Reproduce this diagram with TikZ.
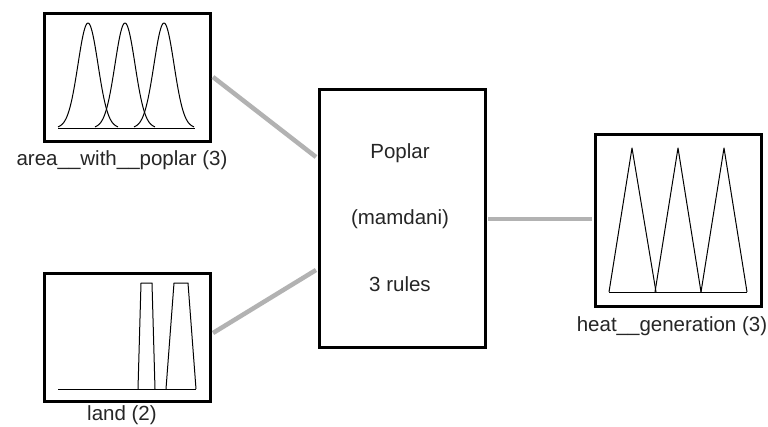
\documentclass[tikz,border=0pt]{standalone}
\usepackage{fontspec}
\setmainfont{Liberation Sans}
\begin{document}
\begin{tikzpicture}[x=1pt,y=-1pt,
  fisbox/.style={draw=black, line width=3pt, fill=white, inner sep=0pt},
  conn/.style={draw=linkgray, line width=4.5pt},
  mf/.style={draw=black, line width=1pt, line join=round},
  lbl/.style={font=\fontsize{20.5}{22}\selectfont, inner sep=0pt, text=black!85}]
\definecolor{linkgray}{RGB}{178,178,178}
\useasboundingbox (0,0) rectangle (768,426);
\fill[white] (0,0) rectangle (768,426);
% boxes
\node[fisbox, minimum width=166pt, minimum height=128pt] (in1) at (127,77) {};
\node[fisbox, minimum width=166pt, minimum height=128pt] (in2) at (127,337) {};
\node[fisbox, minimum width=166pt, minimum height=258pt] (mid) at (402,218) {};
\node[fisbox, minimum width=166pt, minimum height=172pt] (out) at (678,220) {};
% connectors
\draw[conn] ([xshift=1.5pt]in1.east) -- ([yshift=61pt,xshift=-1.5pt]mid.west);
\draw[conn] ([yshift=4pt,xshift=1.5pt]in2.east) -- ([yshift=-52pt,xshift=-1.5pt]mid.west);
\draw[conn] ([yshift=-1pt,xshift=1.5pt]mid.east) -- ([yshift=1pt,xshift=-1.5pt]out.west);
% labels
\node[lbl] (l1) at (122,160) {area\_\_with\_\_poplar (3)};
\node[lbl] (l2) at (122,415) {land (2)};
\node[lbl] (l4) at (672,326) {heat\_\_generation (3)};
\node[lbl] (t1) at (400,153) {Poplar};
\node[lbl] (t2) at (400,219) {(mamdani)};
\node[lbl] (t3) at (400,284) {3 rules};
% membership functions: area_with_poplar
\draw[mf] (58,128) -- (195,128);
\foreach \c in {88,125,164}{
  \draw[mf] plot[domain=-30:30, samples=61, smooth] ({\c+\x},{128-105*exp(-(\x*\x)/200)});
}
% land
\draw[mf] (58,389) -- (196,389);
\draw[mf] (138,389) -- (141,283) -- (152,283) -- (155,389);
\draw[mf] (166,389) -- (174,283) -- (188,283) -- (196,389);
% heat_generation
\draw[mf] (609,292) -- (747,292);
\draw[mf] (609,292) -- (632,148) -- (656,292);
\draw[mf] (655,292) -- (678,148) -- (701,292);
\draw[mf] (701,292) -- (724,148) -- (747,292);
\end{tikzpicture}
\end{document}
